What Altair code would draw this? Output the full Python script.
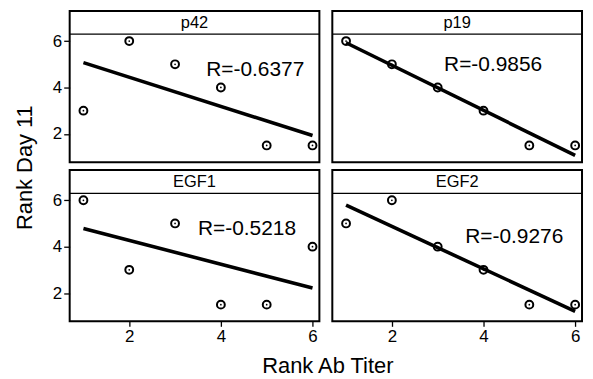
import altair as alt
import pandas as pd

FONT = "Liberation Sans"

panels = ["p42", "p19", "EGF1", "EGF2"]
rank_titer = [1, 2, 3, 4, 5, 6]
rank_day11 = {
    "p42": [3, 6, 5, 4, 1.5, 1.5],
    "p19": [6, 5, 4, 3, 1.5, 1.5],
    "EGF1": [6, 3, 5, 1.5, 1.5, 4],
    "EGF2": [5, 6, 4, 3, 1.5, 1.5],
}
r_labels = ["R=-0.6377", "R=-0.9856", "R=-0.5218", "R=-0.9276"]
label_x = [3.68, 3.14, 3.5, 3.6]
label_y = [4.74, 4.96, 4.74, 4.43]

W, H = 251, 152
XDOM = [0.7, 6.15]
YDOM = [0.78, 7.3]
STRIP_LINE = 6.3
STRIP_TEXT = 6.8


def panel(i, show_x, show_y, x_title=False, y_title=False):
    name = panels[i]
    df = pd.DataFrame({"x": rank_titer, "y": rank_day11[name]})

    xax = None
    if show_x:
        kw = dict(values=[2, 4, 6], grid=False, domain=False, tickColor="black",
                  tickSize=5, tickWidth=1.3, labelFontSize=17, labelColor="black",
                  labelFont=FONT, labelPadding=2)
        if x_title:
            kw.update(title="Rank Ab Titer", titleFontSize=22, titleFont=FONT,
                      titleFontWeight="normal", titleColor="black",
                      titleX=259, titleY=44, titleBaseline="middle", titleAlign="center")
        else:
            kw.update(title=None)
        xax = alt.Axis(**kw)
    yax = None
    if show_y:
        kw = dict(values=[2, 4, 6], grid=False, domain=False, tickColor="black",
                  tickSize=6, tickWidth=1.3, labelFontSize=17, labelColor="black",
                  labelFont=FONT, labelPadding=2)
        if y_title:
            kw.update(title="Rank Day 11", titleFontSize=22, titleFont=FONT,
                      titleFontWeight="normal", titleColor="black",
                      titleX=-45, titleY=157, titleAngle=270,
                      titleBaseline="middle", titleAlign="center")
        else:
            kw.update(title=None)
        yax = alt.Axis(**kw)

    x = alt.X("x:Q", scale=alt.Scale(domain=XDOM, nice=False, zero=False), axis=xax)
    y = alt.Y("y:Q", scale=alt.Scale(domain=YDOM, nice=False, zero=False), axis=yax)

    base = alt.Chart(df).encode(x=x, y=y)
    pts = base.mark_point(shape="circle", filled=False, size=62, color="black",
                          strokeWidth=2, opacity=1)
    dots = base.mark_point(shape="circle", filled=True, size=3, color="black", opacity=1)
    reg = base.transform_regression("x", "y").mark_line(color="black", strokeWidth=3.6)

    lab = alt.Chart(pd.DataFrame({"x": [label_x[i]], "y": [label_y[i]], "t": [r_labels[i]]})).mark_text(
        align="left", baseline="middle", fontSize=21, font=FONT, color="black"
    ).encode(x=x, y=y, text="t:N")

    strip = alt.Chart(pd.DataFrame({"t": [name]})).mark_rule(color="black", strokeWidth=1.3).encode(
        y=alt.datum(STRIP_LINE)
    )
    stext = alt.Chart(pd.DataFrame({"t": [name]})).mark_text(
        fontSize=16.5, font=FONT, color="black", baseline="middle", align="center"
    ).encode(x=alt.value(W / 2), y=alt.datum(STRIP_TEXT), text="t:N")

    return alt.layer(reg, pts, dots, lab, strip, stext).properties(width=W, height=H)


chart = alt.concat(
    panel(0, False, True, y_title=True), panel(1, False, False),
    panel(2, True, True, x_title=True), panel(3, True, False),
    columns=2, spacing={"row": 8, "column": 13}, bounds="flush",
).configure_view(
    stroke="black", strokeWidth=2
).properties(padding={"left": 5, "top": 1, "right": 0, "bottom": 0}, background="white")

chart.save("out.html", embed_options={"renderer": "svg", "actions": False})
